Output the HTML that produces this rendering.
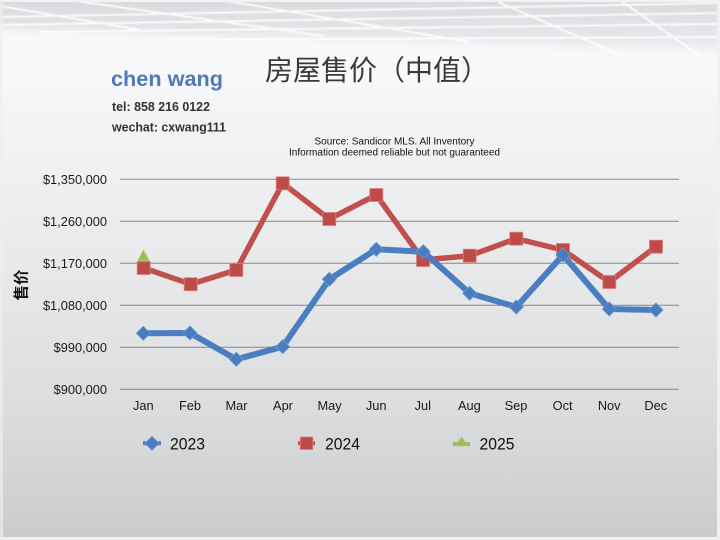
<!DOCTYPE html>
<html>
<head>
<meta charset="utf-8">
<style>
html,body{margin:0;padding:0;}
body{width:720px;height:540px;overflow:hidden;background:#e6e7e9;}
svg{display:block;}
</style>
</head>
<body>
<svg width="720" height="540" viewBox="0 0 720 540" xmlns="http://www.w3.org/2000/svg">
  <defs>
    <linearGradient id="bg" x1="0" y1="0" x2="0" y2="540" gradientUnits="userSpaceOnUse">
      <stop offset="0" stop-color="#f7f8fa"/>
      <stop offset="0.12" stop-color="#f7f8fa"/>
      <stop offset="0.45" stop-color="#eaebed"/>
      <stop offset="0.75" stop-color="#dcdddf"/>
      <stop offset="1" stop-color="#c9cbcd"/>
    </linearGradient>
    <linearGradient id="top" x1="0" y1="0" x2="0" y2="70" gradientUnits="userSpaceOnUse">
      <stop offset="0" stop-color="#d9dadd"/>
      <stop offset="0.45" stop-color="#e4e5e8"/>
      <stop offset="0.8" stop-color="#f1f2f4"/>
      <stop offset="1" stop-color="#f7f8fa"/>
    </linearGradient>
    <filter id="blur" x="-10%" y="-50%" width="120%" height="200%">
      <feGaussianBlur stdDeviation="4"/>
    </filter>
    <filter id="blur1">
      <feGaussianBlur stdDeviation="0.6"/>
    </filter>
  </defs>

  <!-- background -->
  <rect x="0" y="0" width="720" height="540" fill="url(#bg)"/>
  <rect x="0" y="0" width="720" height="70" fill="url(#top)"/>
  <polygon points="-20,28 740,52 740,90 -20,90" fill="#f7f8fa" filter="url(#blur)"/>

  <!-- ceiling white lines -->
  <g stroke="#ffffff" stroke-width="2" opacity="0.85" filter="url(#blur1)" fill="none">
    <line x1="0" y1="17" x2="720" y2="3"/>
    <line x1="0" y1="25" x2="720" y2="13"/>
    <line x1="40" y1="32" x2="720" y2="24"/>
    <line x1="150" y1="40" x2="720" y2="37"/>
    <line x1="69" y1="0" x2="323" y2="36"/>
    <line x1="221" y1="0" x2="470" y2="42"/>
    <line x1="498" y1="2" x2="628" y2="58"/>
    <line x1="620" y1="0" x2="700" y2="56"/>
    <line x1="0" y1="6" x2="140" y2="30"/>
  </g>

  <!-- frame -->
  <rect x="0" y="0" width="3" height="540" fill="#eeeeef" opacity="0.7"/>
  <rect x="717" y="0" width="3" height="540" fill="#f0f0f1"/>
  <rect x="0" y="537" width="720" height="3" fill="#f0f0f1"/>
  <rect x="0" y="0" width="720" height="2" fill="#f3f3f4"/>

  <!-- header texts -->
  <text x="111" y="86" font-family="Liberation Sans, sans-serif" font-weight="bold" font-size="21.5" fill="#5079b9" textLength="112" lengthAdjust="spacingAndGlyphs">chen wang</text>
  <text x="112" y="111" font-family="Liberation Sans, sans-serif" font-weight="bold" font-size="12.5" fill="#333333" textLength="98" lengthAdjust="spacingAndGlyphs">tel: 858 216 0122</text>
  <text x="112" y="131.5" font-family="Liberation Sans, sans-serif" font-weight="bold" font-size="12.5" fill="#333333" textLength="114" lengthAdjust="spacingAndGlyphs">wechat: cxwang111</text>

  <text x="265" y="80" font-family="Liberation Sans, 'Noto Sans CJK SC', sans-serif" font-size="28" fill="#3a3a3a">房屋售价（中值）</text>

  <text x="394.5" y="144.5" text-anchor="middle" font-family="Liberation Sans, sans-serif" font-size="10" fill="#111111" textLength="160" lengthAdjust="spacingAndGlyphs">Source: Sandicor MLS. All Inventory</text>
  <text x="394.5" y="155.5" text-anchor="middle" font-family="Liberation Sans, sans-serif" font-size="10" fill="#111111" textLength="211" lengthAdjust="spacingAndGlyphs">Information deemed reliable but not guaranteed</text>

  <!-- gridlines -->
  <g stroke="#878787" stroke-width="1">
    <line x1="120" y1="179.3" x2="679" y2="179.3"/>
    <line x1="120" y1="221.3" x2="679" y2="221.3"/>
    <line x1="120" y1="263.3" x2="679" y2="263.3"/>
    <line x1="120" y1="305.3" x2="679" y2="305.3"/>
    <line x1="120" y1="347.3" x2="679" y2="347.3"/>
    <line x1="120" y1="389.3" x2="679" y2="389.3"/>
  </g>

  <!-- y tick labels -->
  <g font-family="Liberation Sans, sans-serif" font-size="12.8" fill="#1a1a1a" text-anchor="end">
    <text x="107" y="184">$1,350,000</text>
    <text x="107" y="226">$1,260,000</text>
    <text x="107" y="268">$1,170,000</text>
    <text x="107" y="310">$1,080,000</text>
    <text x="107" y="352">$990,000</text>
    <text x="107" y="394">$900,000</text>
  </g>

  <!-- x labels -->
  <g font-family="Liberation Sans, sans-serif" font-size="12.8" fill="#1a1a1a" text-anchor="middle">
    <text x="143.3" y="410">Jan</text>
    <text x="190" y="410">Feb</text>
    <text x="236.5" y="410">Mar</text>
    <text x="283" y="410">Apr</text>
    <text x="329.6" y="410">May</text>
    <text x="376.2" y="410">Jun</text>
    <text x="422.8" y="410">Jul</text>
    <text x="469.4" y="410">Aug</text>
    <text x="516" y="410">Sep</text>
    <text x="562.6" y="410">Oct</text>
    <text x="609.2" y="410">Nov</text>
    <text x="655.8" y="410">Dec</text>
  </g>

  <!-- y axis title -->
  <text x="0" y="0" transform="translate(26.5,285) rotate(-90)" text-anchor="middle" font-family="Liberation Sans, 'Noto Sans CJK SC', sans-serif" font-weight="bold" font-size="15.5" fill="#111111">售价</text>

  <!-- 2025 series (behind) -->
  <polygon points="143.5,250 149.5,261 137.5,261" fill="#9bbb59" stroke="#b3cc80" stroke-width="0.8"/>

  <!-- 2024 series -->
  <polyline fill="none" stroke="#c0504d" stroke-width="5.5" stroke-linejoin="round"
    points="143.7,268 190.7,284.2 236.3,270 282.7,183.3 329.3,219 376.3,195 423,260 469.7,255.7 516.3,238.7 563,250 609.3,282 656,246.7"/>
  <g fill="#be4b48" stroke="#d8807d" stroke-width="0.8">
    <rect x="137.2" y="261.5" width="13" height="13"/>
    <rect x="184.2" y="277.7" width="13" height="13"/>
    <rect x="229.8" y="263.5" width="13" height="13"/>
    <rect x="276.2" y="176.8" width="13" height="13"/>
    <rect x="322.8" y="212.5" width="13" height="13"/>
    <rect x="369.8" y="188.5" width="13" height="13"/>
    <rect x="416.5" y="253.5" width="13" height="13"/>
    <rect x="463.2" y="249.2" width="13" height="13"/>
    <rect x="509.8" y="232.2" width="13" height="13"/>
    <rect x="556.5" y="243.5" width="13" height="13"/>
    <rect x="602.8" y="275.5" width="13" height="13"/>
    <rect x="649.5" y="240.2" width="13" height="13"/>
  </g>

  <!-- 2023 series -->
  <polyline fill="none" stroke="#4b7ec0" stroke-width="6" stroke-linejoin="round"
    points="143.3,333.3 190,333 236.3,359.3 282.7,346.7 329.3,279.3 376.3,249.3 423.3,251.7 469.7,293.3 516.3,307 563,255 609.3,309 656,310"/>
  <g fill="#4a7dbd" stroke="#6b96cc" stroke-width="0.8">
    <polygon points="143.3,326.3 150.3,333.3 143.3,340.3 136.3,333.3"/>
    <polygon points="190,326 197,333 190,340 183,333"/>
    <polygon points="236.3,352.3 243.3,359.3 236.3,366.3 229.3,359.3"/>
    <polygon points="282.7,339.7 289.7,346.7 282.7,353.7 275.7,346.7"/>
    <polygon points="329.3,272.3 336.3,279.3 329.3,286.3 322.3,279.3"/>
    <polygon points="376.3,242.3 383.3,249.3 376.3,256.3 369.3,249.3"/>
    <polygon points="423.3,244.7 430.3,251.7 423.3,258.7 416.3,251.7"/>
    <polygon points="469.7,286.3 476.7,293.3 469.7,300.3 462.7,293.3"/>
    <polygon points="516.3,300 523.3,307 516.3,314 509.3,307"/>
    <polygon points="563,248 570,255 563,262 556,255"/>
    <polygon points="609.3,302 616.3,309 609.3,316 602.3,309"/>
    <polygon points="656,303 663,310 656,317 649,310"/>
  </g>

  <!-- legend -->
  <line x1="143" y1="443.3" x2="161" y2="443.3" stroke="#4b7ec0" stroke-width="4"/>
  <polygon points="152,436.3 159,443.3 152,450.3 145,443.3" fill="#4a7dbd" stroke="#6b96cc" stroke-width="0.8"/>
  <text x="170" y="449.5" font-family="Liberation Sans, sans-serif" font-size="16.5" fill="#111111" textLength="35" lengthAdjust="spacingAndGlyphs">2023</text>

  <line x1="298" y1="443.3" x2="315" y2="443.3" stroke="#c0504d" stroke-width="4"/>
  <rect x="300.3" y="437" width="12.5" height="12.5" fill="#be4b48" stroke="#d8807d" stroke-width="0.8"/>
  <text x="325" y="449.5" font-family="Liberation Sans, sans-serif" font-size="16.5" fill="#111111" textLength="35" lengthAdjust="spacingAndGlyphs">2024</text>

  <line x1="453" y1="444" x2="470" y2="444" stroke="#9bbb59" stroke-width="4"/>
  <polygon points="461.7,437 468,446 455.4,446" fill="#9bbb59" stroke="#b3cc80" stroke-width="0.6"/>
  <text x="479.5" y="449.5" font-family="Liberation Sans, sans-serif" font-size="16.5" fill="#111111" textLength="35" lengthAdjust="spacingAndGlyphs">2025</text>
</svg>
</body>
</html>
